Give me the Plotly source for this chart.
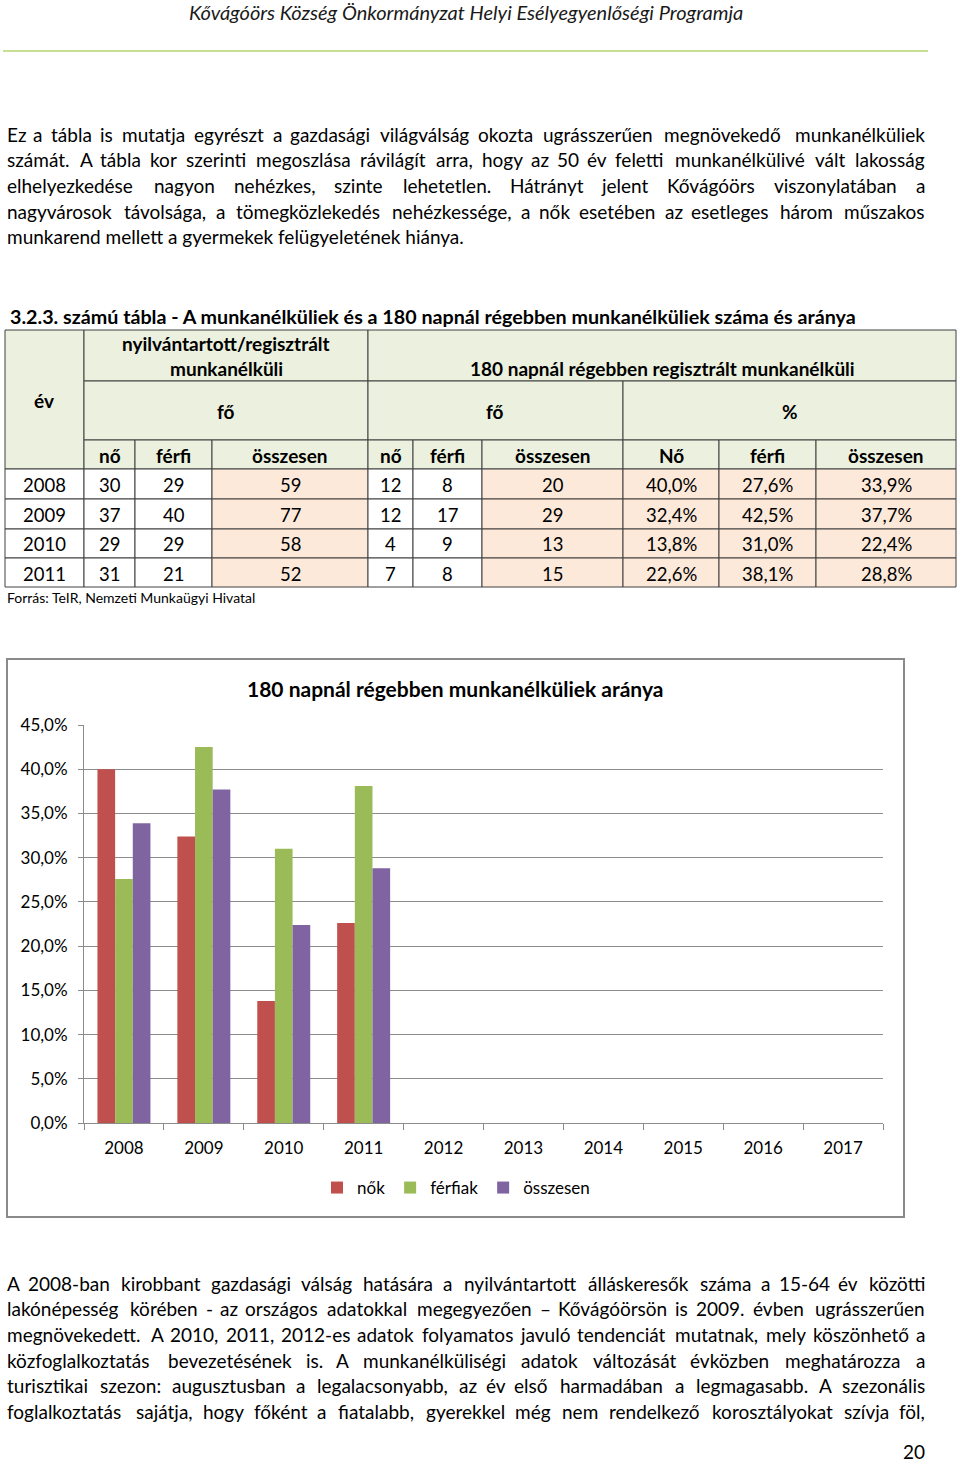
import unicodedata
import plotly.graph_objects as go

# ---------------- data ----------------
chart_years = ["2008", "2009", "2010", "2011", "2012", "2013", "2014", "2015", "2016", "2017"]
nok_pct = [40.0, 32.4, 13.8, 22.6, None, None, None, None, None, None]
ferfiak_pct = [27.6, 42.5, 31.0, 38.1, None, None, None, None, None, None]
osszesen_pct = [33.9, 37.7, 22.4, 28.8, None, None, None, None, None, None]

table_years = ["2008", "2009", "2010", "2011"]
reg_no = [30, 37, 29, 31]
reg_ferfi = [29, 40, 29, 21]
reg_ossz = [59, 77, 58, 52]
long_no = [12, 12, 4, 7]
long_ferfi = [8, 17, 9, 8]
long_ossz = [20, 29, 13, 15]

para1 = [
    "Ez a tábla is mutatja egyrészt a gazdasági világválság okozta ugrásszerűen megnövekedő munkanélküliek",
    "számát. A tábla kor szerinti megoszlása rávilágít arra, hogy az 50 év feletti munkanélkülivé vált lakosság",
    "elhelyezkedése nagyon nehézkes, szinte lehetetlen. Hátrányt jelent Kővágóörs viszonylatában a",
    "nagyvárosok távolsága, a tömegközlekedés nehézkessége, a nők esetében az esetleges három műszakos",
    "munkarend mellett a gyermekek felügyeletének hiánya.",
]
para1_justified = [True, True, True, True, False]
para2 = [
    "A 2008-ban kirobbant gazdasági válság hatására a nyilvántartott álláskeresők száma a 15-64 év közötti",
    "lakónépesség körében - az országos adatokkal megegyezően – Kővágóörsön is 2009. évben ugrásszerűen",
    "megnövekedett. A 2010, 2011, 2012-es adatok folyamatos javuló tendenciát mutatnak, mely köszönhető a",
    "közfoglalkoztatás bevezetésének is. A munkanélküliségi adatok változását évközben meghatározza a",
    "turisztikai szezon: augusztusban a legalacsonyabb, az év első harmadában a legmagasabb. A szezonális",
    "foglalkoztatás sajátja, hogy főként a fiatalabb, gyerekkel még nem rendelkező korosztályokat szívja föl,",
]
para2_justified = [True, True, True, True, True, True]

W, H = 960, 1464
FONT = "Lato"
BODY = 19.0

# approximate glyph advance widths (em) used only to lay out justified lines
CW = {" ": .226, "a": .479, "b": .525, "c": .423, "d": .525, "e": .498, "f": .305, "g": .471, "h": .525,
      "i": .229, "j": .239, "k": .455, "l": .229, "m": .799, "n": .525, "o": .527, "p": .525, "q": .525,
      "r": .349, "s": .391, "t": .335, "u": .525, "v": .452, "w": .715, "x": .433, "y": .453, "z": .395,
      "A": .579, "B": .544, "C": .533, "D": .615, "E": .488, "F": .459, "G": .631, "H": .623, "I": .252,
      "J": .319, "K": .520, "L": .420, "M": .855, "N": .646, "O": .662, "P": .517, "Q": .673, "R": .543,
      "S": .459, "T": .487, "U": .642, "V": .567, "W": .890, "X": .519, "Y": .487, "Z": .468,
      ".": .252, ",": .250, "-": .306, "–": .500, ":": .268, "%": .715, "/": .386}


def est_w(s, size=21.0):
    tot = 0.0
    for ch in s:
        if ch.isdigit():
            tot += .545
            continue
        base = unicodedata.normalize("NFD", ch)[0]
        tot += CW.get(ch, CW.get(base, .5))
    return tot * size


def px(x):
    return x / W


def py(y):
    return 1 - y / H


def fmt_pct(v):
    return f"{v:.1f}".replace(".", ",") + "%"


annotations = []
shapes = []


def text(x, y, s, size=BODY, bold=False, italic=False, anchor="left", color="#000000", yanchor="middle"):
    if bold:
        s = f"<b>{s}</b>"
    if italic:
        s = f"<i>{s}</i>"
    annotations.append(dict(
        x=px(x), y=py(y), xref="paper", yref="paper", text=s, showarrow=False,
        xanchor=anchor, yanchor=yanchor, align="center" if anchor == "center" else anchor,
        borderpad=0, borderwidth=0,
        font=dict(family=FONT, size=size, color=color),
    ))


def para_line(y, line, justify, x0=7, x1=925):
    if not justify:
        text(x0, y, line)
        return
    words = line.split(" ")
    widths = [est_w(w) for w in words]
    gap = (x1 - x0 - sum(widths)) / (len(words) - 1)
    x = x0
    last = len(words) - 1
    for k, w in enumerate(words):
        if k == 0:
            text(x0, y, w, anchor="left")
        elif k == last:
            text(x1, y, w, anchor="right")
        else:
            text(x + widths[k] / 2, y, w, anchor="center")
        x += widths[k] + gap


def rect(x0, y0, x1, y1, fill=None, line_color="#404040", lw=1):
    shapes.append(dict(
        type="rect", xref="paper", yref="paper",
        x0=px(x0), x1=px(x1), y0=py(y1), y1=py(y0),
        fillcolor=fill if fill else "rgba(0,0,0,0)",
        line=dict(color=line_color, width=lw), layer="below",
    ))


# page header
text(466, 12, "Kővágóörs Község Önkormányzat Helyi Esélyegyenlőségi Programja", size=20, italic=True,
     anchor="center", color="#1a1a1a")
shapes.append(dict(type="line", xref="paper", yref="paper", x0=px(3), x1=px(928), y0=py(51), y1=py(51),
                   line=dict(color="#b6d36e", width=1.5)))

# paragraph 1
for i, line in enumerate(para1):
    para_line(134 + i * 25.7, line, para1_justified[i])

# table title
text(10, 316, "3.2.3. számú tábla - A munkanélküliek és a 180 napnál régebben munkanélküliek száma és aránya",
     size=19.7, bold=True)

# table
HDR = "#ebf1de"
PEACH = "#fde9d9"
HS = 19
DS = 18.5
cols = [5, 84, 135, 212, 368, 413, 482, 623, 719, 816, 956]
rows = [469, 499, 529, 558, 587]

rect(5, 330, 84, 469, HDR)
rect(84, 330, 368, 381, HDR)
rect(368, 330, 956, 381, HDR)
rect(84, 381, 368, 440, HDR)
rect(368, 381, 623, 440, HDR)
rect(623, 381, 956, 440, HDR)
sub_labels = ["nő", "férfi", "összesen", "nő", "férfi", "összesen", "Nő", "férfi", "összesen"]
for j, lab in enumerate(sub_labels):
    x0, x1 = cols[j + 1], cols[j + 2]
    rect(x0, 440, x1, 469, HDR)
    text((x0 + x1) / 2, 455, lab, size=HS, bold=True, anchor="center")

text(44, 400, "év", size=HS, bold=True, anchor="center")
text(226, 343, "nyilvántartott/regisztrált", size=HS, bold=True, anchor="center")
text(226, 369, "munkanélküli", size=HS, bold=True, anchor="center")
text(662, 369, "180 napnál régebben regisztrált munkanélküli", size=HS, bold=True, anchor="center")
text(226, 411, "fő", size=HS, bold=True, anchor="center")
text(495, 411, "fő", size=HS, bold=True, anchor="center")
text(790, 411, "%", size=HS, bold=True, anchor="center")

peach_cols = {3, 6, 7, 8, 9}
for i, yr in enumerate(table_years):
    vals = [yr, str(reg_no[i]), str(reg_ferfi[i]), str(reg_ossz[i]), str(long_no[i]), str(long_ferfi[i]),
            str(long_ossz[i]), fmt_pct(nok_pct[i]), fmt_pct(ferfiak_pct[i]), fmt_pct(osszesen_pct[i])]
    y0, y1 = rows[i], rows[i + 1]
    for j, v in enumerate(vals):
        x0, x1 = cols[j], cols[j + 1]
        rect(x0, y0, x1, y1, PEACH if j in peach_cols else "#ffffff")
        text((x0 + x1) / 2, (y0 + y1) / 2 + 1, v, size=DS, anchor="center")

text(7, 598, "Forrás: TeIR, Nemzeti Munkaügyi Hivatal", size=14)

# chart frame and title
shapes.append(dict(type="rect", xref="paper", yref="paper", x0=px(7), x1=px(904), y0=py(1217), y1=py(659),
                   line=dict(color="#8a8a8a", width=2), fillcolor="rgba(0,0,0,0)", layer="below"))
text(455, 688, "180 napnál régebben munkanélküliek aránya", size=21, bold=True, anchor="center")

# paragraph 2
for i, line in enumerate(para2):
    para_line(1283 + i * 25.7, line, para2_justified[i])
text(925, 1451, "20", size=BODY, anchor="right")

fig = go.Figure()
series = [("nők", nok_pct, "#c0504d"), ("férfiak", ferfiak_pct, "#9bbb59"), ("összesen", osszesen_pct, "#8064a2")]
for name, vals, col in series:
    fig.add_trace(go.Bar(x=chart_years, y=vals, name=name, marker=dict(color=col, line=dict(width=0))))

fig.update_layout(
    width=W, height=H, margin=dict(l=0, r=0, t=0, b=0, autoexpand=False),
    paper_bgcolor="#ffffff", plot_bgcolor="#ffffff",
    barmode="group", bargap=0.337, bargroupgap=0,
    font=dict(family=FONT, size=16, color="#000000"),
    annotations=annotations, shapes=shapes,
    showlegend=True,
    legend=dict(orientation="h", x=px(456), y=py(1188), xanchor="center", yanchor="middle",
                font=dict(family=FONT, size=17), itemwidth=30, traceorder="normal",
                bgcolor="rgba(0,0,0,0)"),
    xaxis=dict(domain=[px(84), px(883)], type="category", categoryorder="array", categoryarray=chart_years,
               showline=True, linecolor="#8c8c8c", linewidth=1, ticks="outside", tickson="boundaries",
               ticklen=6, tickcolor="#8c8c8c", showgrid=False, tickfont=dict(family=FONT, size=17),
               ticklabelstandoff=10, automargin=False, fixedrange=True),
    yaxis=dict(domain=[py(1123), py(725)], range=[0, 45], dtick=5, tickformat=".1f", ticksuffix="%",
               showline=True, linecolor="#8c8c8c", linewidth=1, ticks="outside", ticklen=5,
               tickcolor="#8c8c8c", showgrid=True, gridcolor="#8c8c8c", gridwidth=1,
               tickfont=dict(family=FONT, size=17), zeroline=False, ticklabelstandoff=7,
               automargin=False, fixedrange=True),
    separators=", ",
)

post = (
    "var d=document.getElementById('{plot_id}');"
    "d.style.position='absolute';d.style.left='0px';d.style.top='0px';"
    "var h=document.documentElement;var b=document.body;"
    "h.style.margin='0';b.style.margin='0';h.style.padding='0';b.style.padding='0';"
    "h.style.height='1464px';b.style.height='1464px';"
    "h.style.overflow='hidden';b.style.overflow='hidden';"
)

fig.write_html("out.html", config={"displayModeBar": False}, post_script=post)
